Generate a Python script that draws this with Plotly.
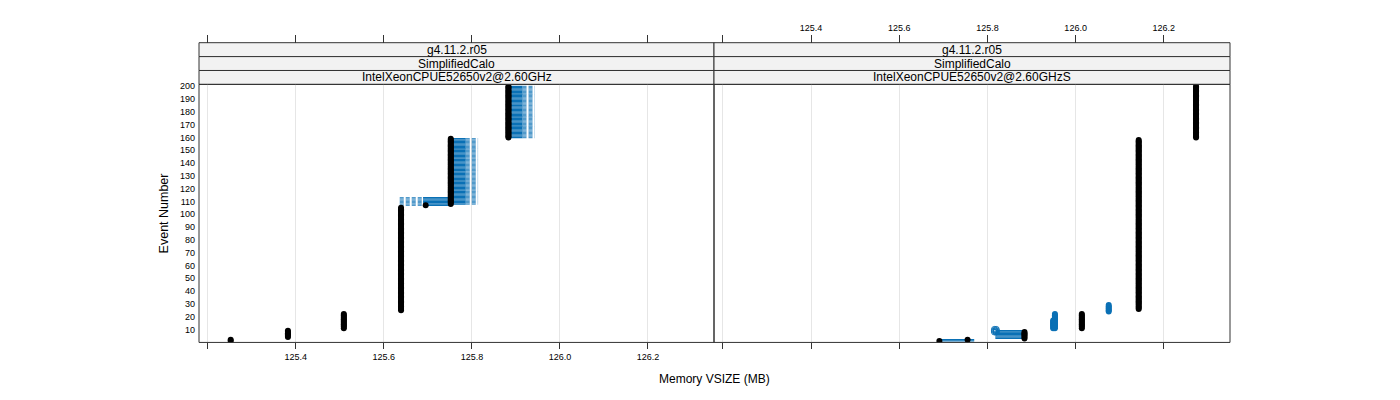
import plotly.graph_objects as go

W, H = 1400, 400

# ---------------- data ----------------
# Left panel: IntelXeonCPUE52650v2@2.60GHz
black_left_x = [125.252, 125.382, 125.509, 125.639, 125.695, 125.752, 125.883]
black_left_first = [1, 4, 11, 25, 107, 108, 160]
black_left_last = [2, 9, 22, 105, 107, 159, 200]

blue_left_first = [107, 108, 160]
blue_left_last = [113, 159, 200]
blue_left_solid_x0 = [125.689, 125.754, 125.885]
blue_left_solid_x1 = [125.750, 125.786, 125.915]
blue_left_dash_x0 = [125.636, 125.786, 125.915]
blue_left_dash_x1 = [125.689, 125.814, 125.943]

# Right panel: IntelXeonCPUE52650v2@2.60GHzS
black_right_x = [125.691, 125.755, 125.884, 126.014, 126.143, 126.273]
black_right_first = [1, 2, 3, 11, 26, 160]
black_right_last = [1, 2, 8, 22, 158, 200]

blue_right_seg_x0 = [125.692, 125.818]
blue_right_seg_x1 = [125.770, 125.884]
blue_right_seg_first = [1, 3]
blue_right_seg_last = [2, 9]

blue_right_open_x = [125.816, 125.820]
blue_right_open_first = [8, 8]
blue_right_open_last = [10, 10]

blue_right_blob_x = [125.949, 125.953, 126.075]
blue_right_blob_first = [11, 11, 24]
blue_right_blob_last = [17, 22, 29]

tick_vals = [125.2, 125.4, 125.6, 125.8, 126.0, 126.2]
tick_text = ["", "125.4", "125.6", "125.8", "126.0", "126.2"]
y_ticks = list(range(10, 201, 10))

panel_titles = [
    ["g4.11.2.r05", "SimplifiedCalo", "IntelXeonCPUE52650v2@2.60GHz"],
    ["g4.11.2.r05", "SimplifiedCalo", "IntelXeonCPUE52650v2@2.60GHzS"],
]

# ---------------- geometry ----------------
PX_L0, PX_MID, PX_R1 = 199, 714, 1230
STRIP_TOP = 40
STRIP_H = 14
PY_TOP, PY_BOT = STRIP_TOP + 3 * STRIP_H, 342
XR = [125.18, 126.35]
YR = [-0.17, 201.5]

BLUE = "#0a70b5"
FONT = "Liberation Sans, Arial, sans-serif"


def fx(p):
    return p / W


def fy(p):
    return 1 - p / H


def expand(xs, firsts, lasts):
    ox, oy = [], []
    for x, a, b in zip(xs, firsts, lasts):
        for e in range(a, b + 1):
            ox.append(x)
            oy.append(e)
    return ox, oy


def segments(x0s, x1s, firsts, lasts):
    ox, oy = [], []
    for x0, x1, a, b in zip(x0s, x1s, firsts, lasts):
        for e in range(a, b + 1):
            ox += [x0, x1, None]
            oy += [e, e, None]
    return ox, oy


fig = go.Figure()

# ---- left panel ----
sx, sy = segments(blue_left_dash_x0, blue_left_dash_x1, blue_left_first, blue_left_last)
fig.add_trace(go.Scatter(x=sx, y=sy, mode="lines", xaxis="x", yaxis="y",
                         line=dict(color=BLUE, width=1.3, dash="4px,2px"),
                         opacity=0.7, hoverinfo="skip", showlegend=False))
sx, sy = segments(blue_left_solid_x0, blue_left_solid_x1, blue_left_first, blue_left_last)
fig.add_trace(go.Scatter(x=sx, y=sy, mode="lines", xaxis="x", yaxis="y",
                         line=dict(color=BLUE, width=1.3),
                         hoverinfo="skip", showlegend=False))
bx, by = expand(black_left_x, black_left_first, black_left_last)
fig.add_trace(go.Scatter(x=bx, y=by, mode="markers", xaxis="x", yaxis="y",
                         marker=dict(color="black", size=6, line=dict(width=0)),
                         hoverinfo="skip", showlegend=False))

# ---- right panel ----
sx, sy = segments(blue_right_seg_x0, blue_right_seg_x1, blue_right_seg_first, blue_right_seg_last)
fig.add_trace(go.Scatter(x=sx, y=sy, mode="lines", xaxis="x2", yaxis="y2",
                         line=dict(color=BLUE, width=1.3),
                         hoverinfo="skip", showlegend=False))
ox, oy = expand(blue_right_open_x, blue_right_open_first, blue_right_open_last)
fig.add_trace(go.Scatter(x=ox, y=oy, mode="markers", xaxis="x2", yaxis="y2",
                         marker=dict(color=BLUE, size=6, symbol="circle-open", line=dict(width=1)),
                         hoverinfo="skip", showlegend=False))
ux, uy = expand(blue_right_blob_x, blue_right_blob_first, blue_right_blob_last)
fig.add_trace(go.Scatter(x=ux, y=uy, mode="markers", xaxis="x2", yaxis="y2",
                         marker=dict(color=BLUE, size=6, line=dict(width=0)),
                         hoverinfo="skip", showlegend=False))
bx, by = expand(black_right_x, black_right_first, black_right_last)
fig.add_trace(go.Scatter(x=bx, y=by, mode="markers", xaxis="x2", yaxis="y2",
                         marker=dict(color="black", size=6, line=dict(width=0)),
                         hoverinfo="skip", showlegend=False))

# dummy traces so the top axes are drawn
for xa, ya in [("x3", "y"), ("x4", "y2")]:
    fig.add_trace(go.Scatter(x=[XR[0]], y=[-1000], mode="markers", xaxis=xa, yaxis=ya,
                             marker=dict(opacity=0), hoverinfo="skip", showlegend=False))

tickfont = dict(family=FONT, size=9, color="black")
common_x = dict(range=XR, tickvals=tick_vals, ticks="outside",
                tickcolor="#333", tickwidth=1, zeroline=False, showline=False,
                tickfont=tickfont, fixedrange=True)

fig.update_layout(
    width=W, height=H, autosize=False,
    margin=dict(l=0, r=0, t=0, b=0),
    paper_bgcolor="white", plot_bgcolor="white",
    font=dict(family=FONT, color="black"),
    xaxis=dict(domain=[fx(PX_L0), fx(PX_MID)], anchor="y", ticktext=tick_text, ticklen=6,
               showgrid=True, gridcolor="#e6e6e6", gridwidth=1, **common_x),
    xaxis2=dict(domain=[fx(PX_MID), fx(PX_R1)], anchor="y2", showticklabels=False, ticklen=6,
                showgrid=True, gridcolor="#e6e6e6", gridwidth=1, **common_x),
    xaxis3=dict(overlaying="x", side="top", anchor="free", position=fy(STRIP_TOP),
                showticklabels=False, showgrid=False, ticklen=8, **common_x),
    xaxis4=dict(overlaying="x2", side="top", anchor="free", position=fy(STRIP_TOP),
                ticktext=tick_text, showgrid=False, ticklen=8, **common_x),
    yaxis=dict(domain=[fy(PY_BOT), fy(PY_TOP)], anchor="x", range=YR,
               tickvals=y_ticks, ticks="", showgrid=False, zeroline=False,
               showline=False, tickfont=tickfont, ticklabelstandoff=3, fixedrange=True),
    yaxis2=dict(domain=[fy(PY_BOT), fy(PY_TOP)], anchor="x2", range=YR,
                showticklabels=False, ticks="", showgrid=False, zeroline=False,
                showline=False, fixedrange=True),
)

shapes = []
annotations = []
panels = [(PX_L0, PX_MID), (PX_MID, PX_R1)]
for (p0, p1), titles in zip(panels, panel_titles):
    for i, t in enumerate(titles):
        s_top = STRIP_TOP + i * STRIP_H
        s_bot = s_top + STRIP_H
        shapes.append(dict(type="rect", xref="paper", yref="paper",
                           x0=fx(p0), x1=fx(p1), y0=fy(s_bot), y1=fy(s_top),
                           fillcolor="#f2f2f2", line=dict(color="#333", width=1),
                           layer="below"))
        annotations.append(dict(xref="paper", yref="paper", x=fx((p0 + p1) / 2),
                                y=fy((s_top + s_bot) / 2), text=t, showarrow=False,
                                xanchor="center", yanchor="middle",
                                font=dict(family=FONT, size=12, color="black")))
    shapes.append(dict(type="rect", xref="paper", yref="paper",
                       x0=fx(p0), x1=fx(p1), y0=fy(PY_BOT), y1=fy(PY_TOP),
                       line=dict(color="#333", width=1), layer="above"))

annotations.append(dict(xref="paper", yref="paper", x=fx((PX_L0 + PX_R1) / 2), y=fy(379),
                        text="Memory VSIZE (MB)", showarrow=False,
                        xanchor="center", yanchor="middle",
                        font=dict(family=FONT, size=12, color="black")))
annotations.append(dict(xref="paper", yref="paper", x=fx(164), y=fy((PY_TOP + PY_BOT) / 2),
                        text="Event Number", showarrow=False, textangle=-90,
                        xanchor="center", yanchor="middle",
                        font=dict(family=FONT, size=12.5, color="black")))

fig.update_layout(shapes=shapes, annotations=annotations)
fig.write_html("out.html")
